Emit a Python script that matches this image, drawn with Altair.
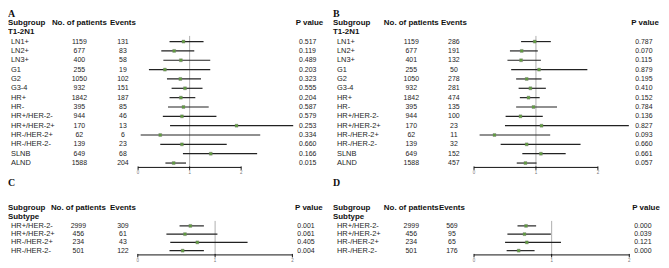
import altair as alt
import pandas as pd

SANS = "Liberation Sans"
SERIF = "Liberation Serif"
TXT = "#1e1e1e"

# ---------------- data ----------------
top_groups = ["LN1+", "LN2+", "LN3+", "G1", "G2", "G3-4", "HR+", "HR-",
              "HR+/HER-2-", "HR+/HER-2+", "HR-/HER-2+", "HR-/HER-2-", "SLNB", "ALND"]

a_patients = [1159, 677, 400, 255, 1050, 932, 1842, 395, 944, 170, 62, 139, 649, 1588]
a_events = [131, 83, 58, 19, 102, 151, 187, 85, 46, 13, 6, 23, 68, 204]
a_hr = [0.88, 0.70, 0.83, 0.52, 0.82, 0.91, 0.83, 0.88, 0.85, 1.91, 0.43, 0.85, 1.41, 0.69]
a_lo = [0.61, 0.45, 0.49, 0.21, 0.56, 0.65, 0.61, 0.58, 0.48, 0.62, 0.05, 0.43, 0.87, 0.53]
a_hi = [1.27, 1.09, 1.40, 1.40, 1.22, 1.25, 1.11, 1.37, 1.52, 3.01, 2.37, 1.72, 2.31, 0.93]
a_p = ["0.517", "0.119", "0.489", "0.203", "0.323", "0.555", "0.204", "0.587",
       "0.579", "0.253", "0.334", "0.660", "0.166", "0.015"]

b_patients = [1159, 677, 401, 255, 1050, 932, 1842, 395, 944, 170, 62, 139, 649, 1588]
b_events = [286, 191, 132, 50, 278, 281, 474, 135, 100, 23, 11, 32, 152, 457]
b_hr = [0.98, 0.77, 0.76, 1.05, 0.85, 0.91, 0.88, 0.96, 0.75, 1.09, 0.33, 0.85, 1.08, 0.83]
b_lo = [0.76, 0.58, 0.54, 0.60, 0.68, 0.72, 0.74, 0.68, 0.51, 0.50, 0.09, 0.43, 0.78, 0.69]
b_hi = [1.24, 1.03, 1.08, 1.83, 1.09, 1.16, 1.06, 1.34, 1.11, 2.50, 1.23, 1.72, 1.48, 1.01]
b_p = ["0.787", "0.070", "0.115", "0.879", "0.195", "0.410", "0.152", "0.784",
       "0.136", "0.827", "0.093", "0.660", "0.661", "0.057"]

sub_groups = ["HR+/HER-2-", "HR+/HER-2+", "HR-/HER-2+", "HR-/HER-2-"]
c_patients = [2999, 456, 234, 501]
c_events = [309, 61, 43, 122]
c_hr = [0.68, 0.61, 0.77, 0.58]
c_lo = [0.54, 0.37, 0.42, 0.41]
c_hi = [0.855, 1.03, 1.42, 0.855]
c_p = ["0.001", "0.061", "0.405", "0.004"]

d_patients = [2999, 456, 234, 501]
d_events = [569, 95, 65, 176]
d_hr = [0.67, 0.65, 0.68, 0.575]
d_lo = [0.56, 0.43, 0.40, 0.42]
d_hi = [0.80, 0.99, 1.12, 0.78]
d_p = ["0.000", "0.039", "0.121", "0.000"]

tick_values = [0, 1, 2]
axis_span = [0, 2]
ref_value = 1


def panel(letter, title, groups, patients, events, hr, lo, hi, pvals, g):
    n = len(groups)
    df = pd.DataFrame({
        "row": list(range(n)),
        "label": groups,
        "patients": [str(v) for v in patients],
        "events": [str(v) for v in events],
        "hr": hr, "lo": lo, "hi": hi, "p": pvals,
    })
    ys = alt.Scale(domain=[0, n - 1], range=[g["y0"], g["y0"] + (n - 1) * g["step"]],
                   nice=False, zero=False)
    xs = alt.Scale(domain=[0, 2], range=[g["x0"], g["x2"]], nice=False, zero=False)
    Y = alt.Y("row:Q", scale=ys, axis=None)
    base = alt.Chart(df)

    num = dict(font=SANS, fontSize=7, color=TXT, baseline="middle")
    head = dict(font=SANS, fontSize=8, fontWeight="bold", color="#111", baseline="middle")

    labels = base.mark_text(align="left", font=SANS, fontSize=7.5, color=TXT,
                            baseline="middle").encode(
        x=alt.value(g["lab_x"]), y=Y, text="label:N")
    pat = base.mark_text(align="center", **num).encode(
        x=alt.value(g["pat_x"]), y=Y, text="patients:N")
    evt = base.mark_text(align="center", **num).encode(
        x=alt.value(g["evt_x"]), y=Y, text="events:N")
    pv = base.mark_text(align="left", **num).encode(
        x=alt.value(g["p_x"]), y=Y, text="p:N")

    ci = base.mark_rule(color="#222", strokeWidth=1.2).encode(
        x=alt.X("lo:Q", scale=xs, axis=None), x2="hi:Q", y=Y)
    pts = base.mark_square(color="#5f9e3c", size=9, opacity=1,
                           stroke="#7a7a7a", strokeWidth=0.4).encode(
        x=alt.X("hr:Q", scale=xs, axis=None), y=Y)

    ref = alt.Chart(pd.DataFrame({"v": [ref_value]})).mark_rule(
        color="#9a9a9a", strokeWidth=0.8).encode(
        x=alt.X("v:Q", scale=xs, axis=None),
        y=alt.value(g["ref_top"]), y2=alt.value(g["axis_y"]))
    axline = alt.Chart(pd.DataFrame({"a": [axis_span[0]], "b": [axis_span[1]]})).mark_rule(
        color="#111", strokeWidth=1).encode(
        x=alt.X("a:Q", scale=xs, axis=None), x2="b:Q", y=alt.value(g["axis_y"]))
    tdf = pd.DataFrame({"t": tick_values})
    ticks = alt.Chart(tdf).mark_rule(color="#111", strokeWidth=1).encode(
        x=alt.X("t:Q", scale=xs, axis=None),
        y=alt.value(g["axis_y"] - 1), y2=alt.value(g["axis_y"] + 2.5))
    ticklab = alt.Chart(tdf).mark_text(font=SANS, fontSize=4.5, color="#777",
                                       baseline="middle").encode(
        x=alt.X("t:Q", scale=xs, axis=None), y=alt.value(g["ticklab_y"]), text="t:N")

    one = alt.Chart(pd.DataFrame({"k": [0]}))
    let = one.mark_text(text=letter, font=SERIF, fontSize=10, fontWeight="bold",
                        color="#111", align="left", baseline="top").encode(
        x=alt.value(0), y=alt.value(g["letter_y"]))
    h1 = one.mark_text(text="Subgroup", align="left", **head).encode(
        x=alt.value(0), y=alt.value(g["head_y"]))
    h2 = one.mark_text(text="No. of patients", align="center", **head).encode(
        x=alt.value(g["pat_x"]), y=alt.value(g["head_y"]))
    h3 = one.mark_text(text="Events", align="center", **head).encode(
        x=alt.value(g["evt_x"]), y=alt.value(g["head_y"]))
    h4 = one.mark_text(text="P value", align="left", **head).encode(
        x=alt.value(g["phead_x"]), y=alt.value(g["head_y"]))
    h5 = one.mark_text(text=title, align="left", **head).encode(
        x=alt.value(0), y=alt.value(g["group_y"]))

    return alt.layer(ref, axline, ticks, ticklab, ci, pts, labels, pat, evt, pv,
                     let, h1, h2, h3, h4, h5).properties(width=g["w"], height=g["h"])


geoA = dict(w=328, h=172, letter_y=0, head_y=14, group_y=22.9, y0=32.7, step=9.43,
            axis_y=159.7, ticklab_y=165.5, ref_top=27, x0=131.3, x2=235.3,
            lab_x=3, pat_x=72, evt_x=116, phead_x=290.3, p_x=293.7)
geoB = dict(geoA, x0=142.3, x2=267.3, lab_x=4, pat_x=79, evt_x=122, phead_x=301, p_x=305)
geoC = dict(w=328, h=86, letter_y=-2, head_y=29, group_y=38, y0=46.7, step=8.33,
            axis_y=76, ticklab_y=82, ref_top=41.7, x0=131, x2=287,
            lab_x=3, pat_x=71, evt_x=116, phead_x=289.7, p_x=292)
geoD = dict(geoC, x0=142.3, x2=299, lab_x=4, pat_x=79, evt_x=120, phead_x=302, p_x=304)

pA = panel("A", "T1-2N1", top_groups, a_patients, a_events, a_hr, a_lo, a_hi, a_p, geoA)
pB = panel("B", "T1-2N1", top_groups, b_patients, b_events, b_hr, b_lo, b_hi, b_p, geoB)
pC = panel("C", "Subtype", sub_groups, c_patients, c_events, c_hr, c_lo, c_hi, c_p, geoC)
pD = panel("D", "Subtype", sub_groups, d_patients, d_events, d_hr, d_lo, d_hi, d_p, geoD)

chart = alt.concat(pA, pB, pC, pD, columns=2,
                   spacing=alt.RowColnumber(row=0, column=0), bounds="flush").properties(
    padding=0, background="white"
).configure_view(stroke=None)

chart.save("out.html", embed_options={"renderer": "svg", "actions": False})
